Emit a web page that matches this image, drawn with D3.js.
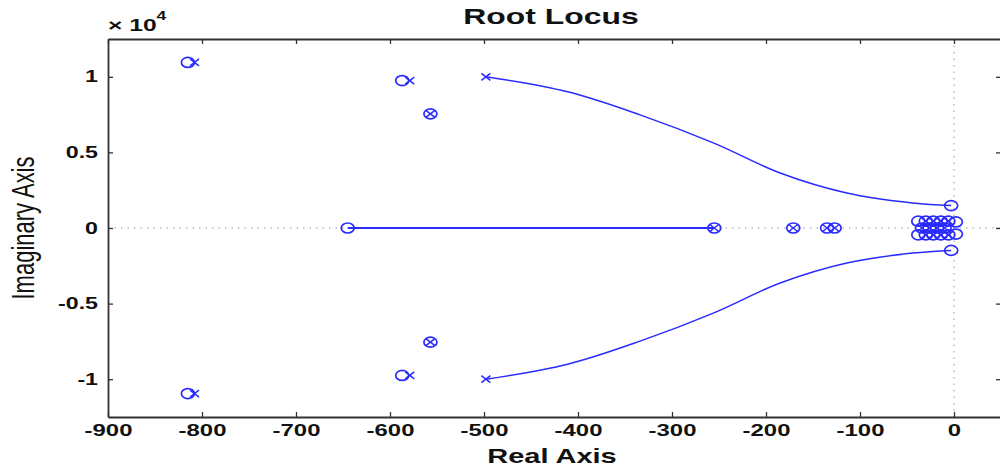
<!DOCTYPE html>
<html>
<head>
<meta charset="utf-8">
<title>Root Locus</title>
<style>
  body { margin: 0; background: #fff; }
  svg  { display: block; font-family: "Liberation Sans", Arial, sans-serif; }
  .axis path, .axis line { stroke: #333; }
</style>
</head>
<body>
<script src="https://cdn.jsdelivr.net/npm/d3@7"></script>
<script>

// values (real part, imaginary part)
var xTicks = [-900, -800, -700, -600, -500, -400, -300, -200, -100, 0];
var yTicks = [-10000, -5000, 0, 5000, 10000];

// upper complex branch, pole at the left end, zero at the right end
var branchRe = [-498, -411, -334, -256, -185, -114, -44, -3];
var branchIm = [10000, 9007, 7483, 5629, 3642, 2318, 1656, 1480];

// real axis branch
var realBranch = [-645, -255];

var poleRe = [-808, -808, -579, -579, -557, -557, -498, -498, -255, -171, -135, -127,
              -34, -26, -18, -10, -30, -22, -14, -6, -30, -22, -14, -6];
var poleIm = [10950, -10950, 9750, -9750, 7550, -7550, 10000, -10000, 0, 0, 0, 0,
              0, 0, 0, 0, 450, 450, 450, 450, -450, -450, -450, -450];

var zeroRe = [-815, -815, -587, -587, -557, -557, -645, -255, -171, -135, -127, -3, -3,
              -38, -30, -22, -14, -6, 2, -38, -30, -22, -14, -6, 2, -34, -26, -18, -10];
var zeroIm = [10950, -10950, 9750, -9750, 7550, -7550, 0, 0, 0, 0, 0, 1480, -1480,
              450, 450, 450, 450, 450, 400, -450, -450, -450, -450, -450, -400, 0, 0, 0, 0];

var W = 1000, H = 472;
var margin = {top: 39, right: -1, bottom: 55, left: 108};
var width = W - margin.left - margin.right,
    height = H - margin.top - margin.bottom;
var stretch = 1.45; // the picture is stretched sideways

var blue = "#2a2aff";

var svg = d3.select("body").append("svg")
    .attr("width", W)
    .attr("height", H);

var x = d3.scaleLinear().domain([-900, 50]).range([0, width]);
var y = d3.scaleLinear().domain([-12500, 12500]).range([height, 0]);

var g = svg.append("g")
    .attr("transform", `translate(${margin.left},${margin.top})`);

// dotted lines through the origin
g.append("line")
    .attr("x1", 0).attr("x2", width)
    .attr("y1", y(0)).attr("y2", y(0))
    .attr("stroke", "#9a9a9a").attr("stroke-dasharray", "1.5,5");
g.append("line")
    .attr("x1", x(0)).attr("x2", x(0))
    .attr("y1", 0).attr("y2", height)
    .attr("stroke", "#9a9a9a").attr("stroke-dasharray", "1.5,5");

// axes
var xBottom = g.append("g").attr("class", "axis")
    .attr("transform", `translate(0,${height})`)
    .call(d3.axisBottom(x).tickValues(xTicks).tickSizeInner(-5).tickSizeOuter(0)
        .tickPadding(7).tickFormat(d => d));
g.append("g").attr("class", "axis")
    .call(d3.axisTop(x).tickValues(xTicks).tickSizeInner(-5).tickSizeOuter(0).tickFormat(""));
var yLeft = g.append("g").attr("class", "axis")
    .call(d3.axisLeft(y).tickValues(yTicks).tickSizeInner(-5).tickSizeOuter(0)
        .tickPadding(10).tickFormat(d => d / 1e4));
g.append("g").attr("class", "axis")
    .attr("transform", `translate(${width},0)`)
    .call(d3.axisRight(y).tickValues(yTicks).tickSizeInner(-5).tickSizeOuter(0).tickFormat(""));

g.selectAll(".axis path").attr("stroke-width", 1.8);
g.selectAll(".axis line").attr("stroke-width", 1.3);

xBottom.selectAll("text")
    .attr("font-size", 16.5).attr("font-weight", "bold").attr("fill", "#111")
    .attr("font-family", "'Liberation Sans', Arial, sans-serif")
    .attr("transform", `scale(${stretch},1)`);
yLeft.selectAll("text")
    .attr("font-size", 16).attr("font-weight", "bold").attr("fill", "#111")
    .attr("font-family", "'Liberation Sans', Arial, sans-serif")
    .attr("x", -10 / stretch)
    .attr("transform", `scale(${stretch},1)`);

// branches
var line = d3.line()
    .x(d => x(d[0]))
    .y(d => y(d[1]))
    .curve(d3.curveCatmullRom);

var upper = branchRe.map((r, i) => [r, branchIm[i]]);
var lower = branchRe.map((r, i) => [r, -branchIm[i]]);

g.selectAll(".branch")
    .data([upper, lower])
  .enter().append("path")
    .attr("class", "branch")
    .attr("d", line)
    .attr("fill", "none")
    .attr("stroke", blue)
    .attr("stroke-width", 1.5);

g.append("line")
    .attr("x1", x(realBranch[0])).attr("x2", x(realBranch[1]))
    .attr("y1", y(0)).attr("y2", y(0))
    .attr("stroke", blue).attr("stroke-width", 1.8);

// zeros
g.selectAll(".zero")
    .data(zeroRe.map((r, i) => [r, zeroIm[i]]))
  .enter().append("ellipse")
    .attr("class", "zero")
    .attr("cx", d => x(d[0]))
    .attr("cy", d => y(d[1]))
    .attr("rx", 6.5)
    .attr("ry", 5)
    .attr("fill", "none")
    .attr("stroke", blue)
    .attr("stroke-width", 1.7);

// poles
g.selectAll(".pole")
    .data(poleRe.map((r, i) => [r, poleIm[i]]))
  .enter().append("path")
    .attr("class", "pole")
    .attr("transform", d => `translate(${x(d[0])},${y(d[1])})`)
    .attr("d", "M-4.5,-3.5L4.5,3.5M-4.5,3.5L4.5,-3.5")
    .attr("fill", "none")
    .attr("stroke", blue)
    .attr("stroke-width", 1.5);

// texts
function label(px, py, txt, size, weight, anchor, rot) {
    var t = svg.append("g")
        .attr("transform", `translate(${px},${py}) scale(${stretch},1)` + (rot ? ` rotate(${rot})` : ""))
      .append("text")
        .attr("text-anchor", anchor)
        .attr("font-size", size)
        .attr("font-weight", weight)
        .attr("fill", "#111")
        .text(txt);
    return t;
}

label(551, 24, "Root Locus", 22, "bold", "middle");
label(552, 463, "Real Axis", 20, "bold", "middle");
label(34, 228, "Imaginary Axis", 22, "normal", "middle", -90);

var mult = label(108, 31, "\u00d7 10", 17, "bold", "start");
mult.append("tspan")
    .attr("font-size", 12)
    .attr("dy", -11)
    .text("4");

</script>
</body>
</html>
